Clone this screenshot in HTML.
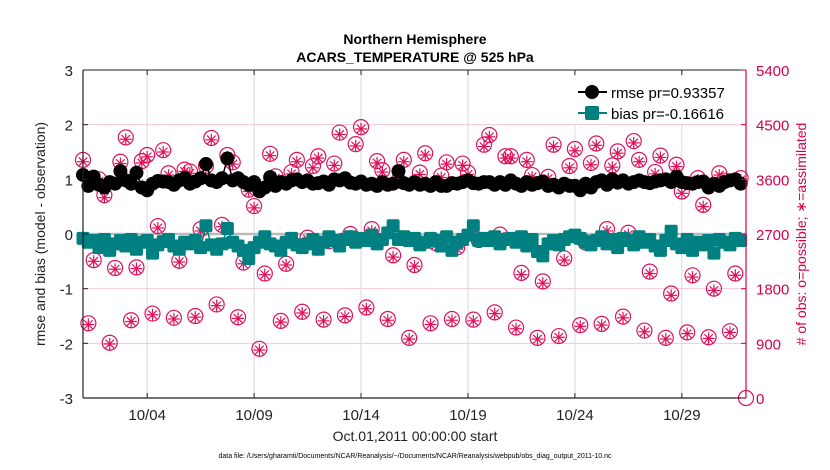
<!DOCTYPE html>
<html><head><meta charset="utf-8">
<style>
html,body{margin:0;padding:0;background:#fff;}
svg{display:block;font-family:"Liberation Sans",sans-serif;}
</style></head>
<body>
<svg id="chart" width="830" height="470" viewBox="0 0 830 470" xmlns="http://www.w3.org/2000/svg">
<rect width="830" height="470" fill="#fff"/>
<text x="415" y="44" text-anchor="middle" font-size="14" font-weight="bold" fill="#000">Northern Hemisphere</text>
<text x="415" y="62" text-anchor="middle" font-size="14" font-weight="bold" fill="#000">ACARS_TEMPERATURE @ 525 hPa</text>
<g id="grid"></g>
<g id="obs"></g>
<g id="series"></g>
<g id="axes"></g>
<text x="415" y="441" text-anchor="middle" font-size="14" fill="#222">Oct.01,2011 00:00:00 start</text>
<text transform="translate(45,234) rotate(-90)" text-anchor="middle" font-size="14" fill="#222">rmse and bias (model - observation)</text>
<text transform="translate(806,234) rotate(-90)" text-anchor="middle" font-size="14" fill="#d6004c"># of obs: o=possible; ∗=assimilated</text>
<text x="415" y="458" text-anchor="middle" font-size="7" fill="#000">data file: /Users/gharamti/Documents/NCAR/Reanalysis/~/Documents/NCAR/Reanalysis/webpub/obs_diag_output_2011-10.nc</text>
<g>
<rect x="555" y="76" width="188" height="48" fill="#fff"/>
<line x1="578" y1="92" x2="607" y2="92" stroke="#000" stroke-width="2"/>
<circle cx="592" cy="92" r="7" fill="#000"/>
<text x="611" y="98" font-size="15" fill="#000">rmse pr=0.93357</text>
<line x1="578" y1="113" x2="607" y2="113" stroke="#008080" stroke-width="2"/>
<rect x="585" y="106" width="14" height="14" rx="2" fill="#008080"/>
<text x="611" y="119" font-size="15" fill="#000">bias pr=-0.16616</text>
</g>
</svg>
<script>
const leftTicks=[-3,-2,-1,0,1,2,3];
const rightTicks=[0,900,1800,2700,3600,4500,5400];
const dateLabels=["10/04","10/09","10/14","10/19","10/24","10/29"];
const dateDays=[3,8,13,18,23,28];
const rmse=[1.08,0.88,1.05,0.90, 0.85,0.95,0.92,1.15, 0.98,0.92,1.12,0.85, 0.80,0.92,0.97,0.96,
0.95,0.90,0.98,1.02, 0.92,0.96,1.02,1.28, 0.98,0.95,1.02,1.38, 0.98,1.02,0.95,0.90,
0.95,0.78,0.85,1.04, 0.88,0.95,0.92,0.98, 1.00,0.95,0.98,0.92, 0.93,0.96,0.90,1.00,
0.98,1.02,0.94,0.92, 0.96,0.90,0.92,0.88, 0.95,0.90,0.92,1.15, 0.93,0.90,0.95,0.90,
0.92,0.88,0.95,0.88, 0.88,0.93,0.92,0.95, 0.98,0.93,0.92,0.95, 0.95,0.90,0.95,0.90,
0.98,0.92,0.88,0.95, 0.90,0.93,0.96,0.88, 0.90,0.85,0.92,0.88, 0.88,0.80,0.92,0.85,
0.95,0.98,0.90,1.00, 0.94,0.98,0.92,0.95, 0.98,0.95,0.93,0.96, 0.98,1.00,0.95,1.05,
0.95,0.93,0.92,0.95, 0.96,0.85,0.92,0.88, 0.95,0.98,1.00,0.92];
const bias=[-0.08,-0.15,-0.12,-0.25, -0.10,-0.30,-0.18,-0.12, -0.22,-0.10,-0.28,-0.15, -0.12,-0.35,-0.20,-0.14,
-0.10,-0.22,-0.28,-0.15, -0.18,-0.12,-0.25,0.15, -0.20,-0.28,-0.18,0.10, -0.15,-0.22,-0.30,-0.45,
-0.25,-0.15,-0.05,-0.18, -0.22,-0.30,-0.15,-0.08, -0.20,-0.25,-0.18,-0.10, -0.28,-0.15,-0.05,-0.12,
-0.22,-0.10,-0.05,-0.15, -0.08,-0.12,-0.02,-0.18, -0.10,0.02,0.15,-0.10, -0.05,-0.12,-0.08,-0.20,
-0.15,-0.08,-0.12,-0.22, -0.05,-0.30,-0.15,-0.10, -0.02,0.15,-0.12,-0.08, -0.12,-0.05,-0.18,-0.10,
-0.08,-0.15,-0.05,-0.22, -0.10,-0.32,-0.40,-0.18, -0.12,-0.20,-0.10,-0.05, -0.02,-0.08,-0.15,-0.20,
-0.12,-0.05,-0.18,-0.10, -0.25,-0.08,-0.12,-0.20, -0.05,-0.15,-0.10,-0.22, -0.30,-0.12,0.05,-0.18,
-0.25,-0.10,-0.30,-0.15, -0.20,-0.12,-0.35,-0.10, -0.15,-0.20,-0.08,-0.12];
const obsPossible=[3920,1230,2270,3600, 3340,910,2140,3890, 4290,1280,2150,3900, 4000,1390,2830,4080,
3700,1320,2260,3760, 3730,1350,2780,3820, 4280,1540,2850,4000, 3880,1330,2230,3430,
3160,810,2050,4020, 3650,1270,2210,3720, 3920,1420,2640,3820, 3980,1290,2580,3860,
4370,1360,2700,4180, 4460,1490,2780,3900, 3750,1300,2350,3580, 3920,990,2190,3710,
4030,1230,2550,3660, 3880,1300,2480,3860, 3710,1290,2600,4170, 4330,1410,2690,3980,
3980,1160,2060,3920, 3670,990,1920,3640, 4170,1020,2300,3820, 4100,1200,2560,3870,
4190,1220,2780,3830, 4060,1340,2720,4230, 3920,1110,2080,3720, 3990,990,1720,3840,
3400,1080,2020,3620, 3180,1000,1800,3700, 3580,1100,2050,3620];
const obsAssim=[3890,1210,2250,3570, 3300,890,2120,3860, 4260,1260,2130,3870, 3970,1370,2800,4050,
3670,1300,2240,3730, 3700,1330,2750,3790, 4250,1520,2820,3970, 3850,1310,2210,3400,
3130,790,2030,3990, 3620,1250,2190,3690, 3890,1400,2610,3790, 3950,1270,2550,3830,
4340,1340,2670,4150, 4430,1470,2750,3870, 3720,1280,2320,3550, 3890,970,2170,3680,
4000,1210,2520,3630, 3850,1280,2450,3830, 3680,1270,2570,4140, 4300,1390,2660,3950,
3950,1140,2030,3890, 3640,970,1890,3610, 4140,1000,2270,3790, 4070,1180,2530,3840,
4160,1200,2750,3800, 4030,1320,2690,4200, 3890,1090,2050,3690, 3960,970,1690,3810,
3370,1060,1990,3590, 3150,980,1770,3670, 3550,1080,2020,3590];

const NS="http://www.w3.org/2000/svg";
const L=83,R=746,T=70,B=398;
const xS=d=>L+(R-L)*d/31;
const yL=v=>B-(v+3)/6*(B-T);
const yR=n=>B-n/5400*(B-T);
function mk(tag,attrs,parent){const e=document.createElementNS(NS,tag);for(const k in attrs)e.setAttribute(k,attrs[k]);parent.appendChild(e);return e;}
const grid=document.getElementById('grid'),axes=document.getElementById('axes'),obs=document.getElementById('obs'),ser=document.getElementById('series');

rightTicks.forEach(t=>{const e=mk('line',{x1:L,x2:R,y1:yR(t),y2:yR(t),stroke:'#f5c8d8','stroke-width':1},grid);

});
dateDays.forEach(d=>{const e=mk('line',{x1:xS(d),x2:xS(d),y1:T,y2:B,stroke:'#d8d8d8','stroke-width':1},grid);

});
const zl=mk('line',{x1:L,x2:R,y1:yL(0),y2:yL(0),stroke:'#bbb','stroke-width':2.5},grid);



obsPossible.forEach((n,i)=>{const cx=xS(i/4),cy=yR(n);
const c=mk('circle',{cx:cx,cy:cy,r:7.5,fill:'none',stroke:'#e0105a','stroke-width':1.2},obs);

});
obsAssim.forEach((n,i)=>{const cx=xS(i/4),cy=yR(n);const g=mk('g',{stroke:'#e0105a','stroke-width':1.2},obs);


[0,45,90,135].forEach(a=>{const r=a*Math.PI/180,dx=6*Math.cos(r),dy=6*Math.sin(r);mk('line',{x1:cx-dx,y1:cy-dy,x2:cx+dx,y2:cy+dy},g);});});
const lastObs=mk('circle',{cx:R,cy:B,r:7.5,fill:'none',stroke:'#e0105a','stroke-width':1.2},obs);



const rp=mk('polyline',{points:rmse.map((v,i)=>xS(i/4)+','+yL(v)).join(' '),fill:'none',stroke:'#000','stroke-width':1.5},ser);


rmse.forEach((v,i)=>{const c=mk('circle',{cx:xS(i/4),cy:yL(v),r:7,fill:'#000'},ser);

});
const bp=mk('polyline',{points:bias.map((v,i)=>xS(i/4)+','+yL(v)).join(' '),fill:'none',stroke:'#008080','stroke-width':1.5},ser);


bias.forEach((v,i)=>{const s=mk('rect',{x:xS(i/4)-6.5,y:yL(v)-6.5,width:13,height:13,rx:2,fill:'#008080'},ser);

});

mk('line',{x1:L,x2:L,y1:T,y2:B,stroke:'#222','stroke-width':1.2},axes);
mk('line',{x1:L,x2:R,y1:B,y2:B,stroke:'#222','stroke-width':1.2},axes);
mk('line',{x1:L,x2:R,y1:T,y2:T,stroke:'#222','stroke-width':1},axes);
mk('line',{x1:R,x2:R,y1:T,y2:B,stroke:'#d6004c','stroke-width':1.2},axes);
leftTicks.forEach(t=>{mk('line',{x1:L,x2:L+5,y1:yL(t),y2:yL(t),stroke:'#222'},axes);
const tx=mk('text',{x:L-10,y:yL(t)+6,'text-anchor':'end','font-size':15,fill:'#222'},axes);tx.textContent=t;

});
rightTicks.forEach(t=>{mk('line',{x1:R-5,x2:R,y1:yR(t),y2:yR(t),stroke:'#d6004c'},axes);
const tx=mk('text',{x:R+10,y:yR(t)+6,'font-size':15,fill:'#d6004c'},axes);tx.textContent=t;

});
dateDays.forEach((d,i)=>{mk('line',{x1:xS(d),x2:xS(d),y1:B,y2:B-5,stroke:'#222'},axes);mk('line',{x1:xS(d),x2:xS(d),y1:T,y2:T+5,stroke:'#222'},axes);
const tx=mk('text',{x:xS(d),y:B+22,'text-anchor':'middle','font-size':15,fill:'#222'},axes);tx.textContent=dateLabels[i];

});
</script>
</body></html>
